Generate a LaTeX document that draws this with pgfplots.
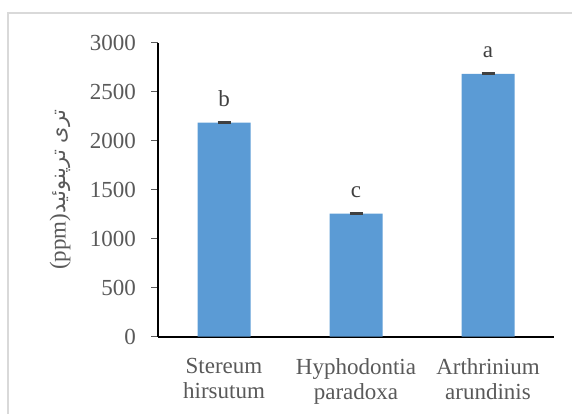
\documentclass[border=0pt]{standalone}
\usepackage{fontspec}
\setmainfont{Liberation Serif}
\newfontfamily\arabicfont[Script=Arabic]{DejaVu Sans}
\TeXXeTstate=1
\usepackage{pgfplots}
\pgfplotsset{compat=1.18}
\usepackage{pgfplotstable}

\definecolor{barblue}{HTML}{5B9BD5}
\definecolor{tickgray}{HTML}{595959}
\definecolor{lettergray}{HTML}{404040}
\definecolor{framegray}{HTML}{D9D9D9}

% mean and error per fungus
\pgfplotstableread{
x y err lab
0 2182 6 b
1 1255 6 c
2 2681 6 a
}\fungi

\begin{document}
\begin{tikzpicture}
\useasboundingbox (0,0) rectangle (286pt,206.5pt);
\draw[framegray, line width=1pt] (4pt,-2pt) -- (4pt,200pt) -- (290pt,200pt);
\begin{axis}[
  at={(79pt,38.25pt)}, anchor=south west,
  scale only axis, width=198pt, height=147pt,
  xmin=-0.5, xmax=2.5, ymin=0, ymax=3000,
  ytick={0,500,...,3000},
  xtick=data,
  xticklabels={{Stereum\\hirsutum},{Hyphodontia\\paradoxa},{Arthrinium\\arundinis}},
  xticklabel style={align=center, yshift=-4pt},
  yticklabel style={xshift=-4pt},
  axis x line*=bottom, axis y line*=left,
  axis line style={black, line width=1pt},
  tick align=outside, major tick length=3.5pt,
  y tick style={tickgray, line width=0.75pt},
  x tick style={draw=none},
  ticklabel style={font=\rmfamily\fontsize{11.5}{12.5}\selectfont, text=tickgray},
  /pgf/number format/assume math mode=true,
  /pgf/number format/1000 sep={},
  scaled y ticks=false,
  ylabel={(ppm){\arabicfont\fontsize{10.5}{12}\selectfont\beginR تری ترپنوئید\endR}},
  ylabel style={at={(axis description cs:-0.247,0.5)}, anchor=center,
    font=\rmfamily\fontsize{11.5}{12.5}\selectfont, text=tickgray},
  nodes near coords, point meta=explicit symbolic,
  nodes near coords style={anchor=base, yshift=8pt,
    font=\rmfamily\fontsize{11.5}{12.5}\selectfont, text=lettergray},
  clip=false,
]
\addplot[ybar, bar width=26.5pt, fill=barblue, draw=none,
  error bars/.cd, y dir=both, y explicit, error mark=|,
  error bar style={line width=1pt, color=lettergray},
  error mark options={mark size=3.25pt, line width=1pt}]
  table[x=x, y=y, y error=err, meta=lab]{\fungi};
\end{axis}
\end{tikzpicture}
\end{document}
